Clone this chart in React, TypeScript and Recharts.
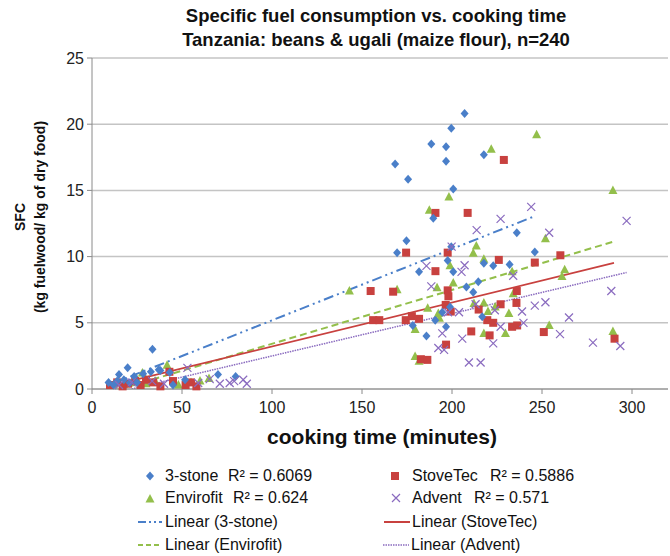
import React from 'react';
import {
  ScatterChart,
  Scatter,
  XAxis,
  YAxis,
  CartesianGrid,
  ReferenceLine,
} from 'recharts';

// [cooking time (min), SFC]
const threeStone = [
  [207, 20.8], [199.6, 19.7], [188.5, 18.5], [196.7, 18.3], [217.7, 17.7], [168.4, 17.0],
  [196.7, 17.2], [175.6, 15.85], [200.7, 15.1], [189.6, 12.9], [236, 11.8], [174.7, 11.2],
  [169.5, 10.3], [199.6, 10.75], [197.6, 9.7], [217.7, 9.5], [222.9, 9.3], [232, 9.4],
  [181.7, 8.85], [200.7, 8.85], [208, 7.7], [214.6, 8.1], [211.8, 7.3], [194.6, 5.8],
  [190.7, 5.2], [198.9, 6.2], [178.2, 4.8], [185.8, 4.0], [196.7, 4.7], [216.8, 5.45],
  [246, 10.35], [33.6, 3.0], [19.8, 1.6], [15, 1.1], [9.2, 0.5], [17.7, 0.7], [23.4, 0.95],
  [28.4, 1.15], [32.7, 1.3], [37.1, 1.45], [14, 0.6], [51.7, 0.7], [70, 1.1], [79.8, 0.95],
  [43.2, 1.25], [21, 0.47], [38, 1.4], [12, 0.3], [25, 0.5], [45, 0.3],
];

const stoveTec = [
  [228.8, 17.3], [190.8, 13.3], [208.7, 13.3], [174.5, 10.3], [197.6, 10.3], [226, 9.75],
  [190.8, 8.9], [154.8, 7.4], [167.3, 7.35], [197.6, 7.45], [198, 7.0], [196.5, 6.35],
  [236, 7.4], [235.8, 6.5], [227, 6.4], [214.8, 6.0], [199.3, 5.85], [156.2, 5.2],
  [159.6, 5.2], [174.3, 5.2], [177.7, 5.5], [181.7, 5.3], [219.6, 5.2], [222.9, 5.0],
  [233.4, 4.7], [236.2, 4.8], [210.7, 4.35], [220.9, 4.05], [196.7, 3.35], [182.7, 2.25],
  [186.3, 2.2], [260.2, 10.1], [246, 9.55], [251, 4.3], [290.3, 3.8], [10, 0.3], [14, 0.5],
  [17, 0.2], [20, 0.4], [24, 0.6], [27, 0.3], [30, 0.7], [34, 0.5], [38, 0.2], [43, 1.3],
  [52, 0.3], [55, 0.5], [58, 0.2], [45, 0.6],
];

const envirofit = [
  [221.8, 18.1], [198.3, 14.5], [187.4, 13.5], [213.5, 10.8], [211.8, 10.25], [217.7, 9.8],
  [198.9, 9.3], [233.4, 8.85], [200.7, 8.0], [191.7, 7.65], [169.5, 7.5], [234, 7.2],
  [212.2, 6.45], [217.7, 6.5], [224, 6.2], [186.5, 6.1], [192.4, 5.7], [193, 5.35],
  [220, 5.85], [231.6, 5.7], [179.5, 4.5], [217.7, 4.2], [229.7, 4.2], [179.5, 2.45],
  [181.7, 2.1], [289.4, 15.0], [251.9, 11.35], [262.6, 9.0], [261.1, 8.5], [254, 4.8],
  [289.4, 4.35], [247, 19.2], [143, 7.4], [41.7, 1.8], [60, 0.6], [12, 0.3], [18, 0.5],
  [25, 0.7], [30, 0.4], [35, 0.6], [48, 0.3], [55, 0.5], [65, 0.8], [28, 1.2],
];

const advent = [
  [227, 12.85], [213.7, 12.0], [199.8, 10.75], [185.8, 9.3], [207, 9.35], [205.3, 8.85],
  [234, 8.55], [188.5, 7.75], [197.8, 5.8], [203.9, 5.8], [213.1, 6.4], [223.8, 5.95],
  [238.9, 5.85], [239.7, 5.0], [227, 4.7], [194.6, 4.2], [205.7, 3.8], [222.9, 3.45],
  [192.4, 3.1], [195.6, 2.95], [209.4, 2.0], [215.9, 2.0], [244, 13.75], [297, 12.7],
  [254, 11.8], [288.5, 7.4], [246, 6.3], [251.9, 6.55], [265, 5.4], [260, 4.15],
  [278.3, 3.5], [293.5, 3.25], [53, 1.6], [65.4, 0.75], [71, 0.4], [76.5, 0.45], [79, 0.6],
  [84, 0.7], [86, 0.4], [33.4, 0.6], [59, 0.45], [15, 0.3], [22, 0.5], [40, 0.4],
];

// trend line end points (start, end)
const trend3Stone = [[8, 0.23], [245, 13.0]];
const trendStoveTec = [[9, 0.19], [290, 9.52]];
const trendEnvirofit = [[16, 0], [289, 11.1]];
const trendAdvent = [[22, 0], [297, 8.8]];

const xTicks = [0, 50, 100, 150, 200, 250, 300];
const yTicks = [0, 5, 10, 15, 20, 25];

const BLUE = '#4a7fc9';
const RED = '#c8413f';
const GREEN = '#93bf4b';
const PURPLE = '#8a6bbf';
const FONT = '"Liberation Sans", Arial, sans-serif';

const toPts = (arr: number[][]) => arr.map(([x, y]) => ({ x, y }));

const Diamond = (p: any) => (
  <path d={`M${p.cx},${p.cy - 4.5}L${p.cx + 4},${p.cy}L${p.cx},${p.cy + 4.5}L${p.cx - 4},${p.cy}Z`} fill={BLUE} />
);
const Square = (p: any) => <rect x={p.cx - 4} y={p.cy - 4} width={8} height={8} fill={RED} />;
const Triangle = (p: any) => (
  <path d={`M${p.cx},${p.cy - 5}L${p.cx + 4.5},${p.cy + 3.5}L${p.cx - 4.5},${p.cy + 3.5}Z`} fill={GREEN} />
);
const Cross = (p: any) => (
  <path
    d={`M${p.cx - 4},${p.cy - 4}L${p.cx + 4},${p.cy + 4}M${p.cx - 4},${p.cy + 4}L${p.cx + 4},${p.cy - 4}`}
    stroke={PURPLE}
    strokeWidth={1.2}
  />
);

function LegendMarker({ kind }: { kind: string }) {
  return (
    <svg width={28} height={20} style={{ position: 'absolute', left: -14, top: 0 }}>
      {kind === 'diamond' && <Diamond cx={14} cy={10} />}
      {kind === 'square' && <Square cx={14} cy={10} />}
      {kind === 'triangle' && <Triangle cx={14} cy={11} />}
      {kind === 'cross' && <Cross cx={14} cy={10} />}
      {kind === 'l3' && <line x1={2} x2={26} y1={10} y2={10} stroke={BLUE} strokeWidth={2} strokeDasharray="8 3 2 3 2 3" />}
      {kind === 'lStove' && <line x1={1} x2={27} y1={10} y2={10} stroke={RED} strokeWidth={2} />}
      {kind === 'lEnv' && <line x1={2} x2={26} y1={10} y2={10} stroke={GREEN} strokeWidth={2} strokeDasharray="5 3" />}
      {kind === 'lAdv' && <line x1={1} x2={27} y1={10} y2={10} stroke={PURPLE} strokeWidth={1.5} strokeDasharray="1.5 1" />}
    </svg>
  );
}

const legendItems = [
  { kind: 'diamond', mx: 150, tx: 165, y: 476, label: '3-stone', r2: 'R² = 0.6069', rx: 228 },
  { kind: 'square', mx: 395, tx: 412, y: 476, label: 'StoveTec', r2: 'R² = 0.5886', rx: 490 },
  { kind: 'triangle', mx: 150, tx: 165, y: 498, label: 'Envirofit', r2: 'R² = 0.624', rx: 233 },
  { kind: 'cross', mx: 396, tx: 412, y: 498, label: 'Advent', r2: 'R² = 0.571', rx: 474 },
  { kind: 'l3', mx: 150, tx: 165, y: 522, label: 'Linear (3-stone)' },
  { kind: 'lStove', mx: 397, tx: 412, y: 522, label: 'Linear (StoveTec)' },
  { kind: 'lEnv', mx: 150, tx: 165, y: 545, label: 'Linear (Envirofit)' },
  { kind: 'lAdv', mx: 396, tx: 411, y: 545, label: 'Linear (Advent)' },
];

export default function App() {
  return (
    <div style={{ position: 'absolute', left: 0, top: 0, width: 670, height: 556, overflow: 'hidden', background: '#fff', fontFamily: FONT }}>
      <div style={{ position: 'absolute', left: 0, width: 752, top: 4, textAlign: 'center', fontWeight: 'bold', fontSize: 18.5, lineHeight: '24px', color: '#111' }}>
        Specific fuel consumption vs. cooking time
        <br />
        Tanzania: beans &amp; ugali (maize flour), n=240
      </div>

      <ScatterChart width={670} height={556} margin={{ top: 58, right: 2, bottom: 137, left: 52 }}>
        <CartesianGrid vertical={false} stroke="#c4c4c4" strokeWidth={1.5} />
        <XAxis
          type="number"
          dataKey="x"
          domain={[0, 320]}
          ticks={xTicks}
          height={30}
          tickSize={5}
          tickMargin={8}
          stroke="#8a8a8a"
          tick={{ fill: '#222', fontSize: 16, fontFamily: FONT }}
        />
        <YAxis
          type="number"
          dataKey="y"
          domain={[0, 25]}
          ticks={yTicks}
          width={40}
          tickSize={5}
          tickMargin={3}
          stroke="#8a8a8a"
          tick={{ fill: '#222', fontSize: 16, fontFamily: FONT }}
        />
        <Scatter data={toPts(envirofit)} shape={Triangle} isAnimationActive={false} />
        <Scatter data={toPts(stoveTec)} shape={Square} isAnimationActive={false} />
        <Scatter data={toPts(threeStone)} shape={Diamond} isAnimationActive={false} />
        <Scatter data={toPts(advent)} shape={Cross} isAnimationActive={false} />
        <ReferenceLine segment={toPts(trend3Stone)} stroke={BLUE} strokeWidth={2} strokeDasharray="10 4 2 4 2 4" ifOverflow="hidden" />
        <ReferenceLine segment={toPts(trendEnvirofit)} stroke={GREEN} strokeWidth={2} strokeDasharray="7 4" ifOverflow="hidden" />
        <ReferenceLine segment={toPts(trendStoveTec)} stroke={RED} strokeWidth={1.8} ifOverflow="hidden" />
        <ReferenceLine segment={toPts(trendAdvent)} stroke={PURPLE} strokeWidth={1.5} strokeDasharray="1.5 1" ifOverflow="hidden" />
      </ScatterChart>

      <div style={{ position: 'absolute', left: 232, top: 425, width: 300, textAlign: 'center', fontWeight: 'bold', fontSize: 21, color: '#111' }}>
        cooking time (minutes)
      </div>

      <div
        style={{
          position: 'absolute',
          left: 32 - 150,
          top: 217 - 22,
          width: 300,
          height: 44,
          transform: 'rotate(-90deg)',
          textAlign: 'center',
          fontWeight: 'bold',
          fontSize: 14,
          lineHeight: '20px',
          color: '#111',
        }}
      >
        SFC
        <br />
        (kg fuelwood/ kg of dry food)
      </div>

      {legendItems.map((it) => (
        <div key={it.label} style={{ position: 'absolute', left: 0, top: it.y - 10, height: 20, fontSize: 16, lineHeight: '20px', color: '#111', whiteSpace: 'nowrap' }}>
          <div style={{ position: 'absolute', left: it.mx }}>
            <LegendMarker kind={it.kind} />
          </div>
          <span style={{ position: 'absolute', left: it.tx }}>{it.label}</span>
          {it.r2 && <span style={{ position: 'absolute', left: it.rx }}>{it.r2}</span>}
        </div>
      ))}
    </div>
  );
}
